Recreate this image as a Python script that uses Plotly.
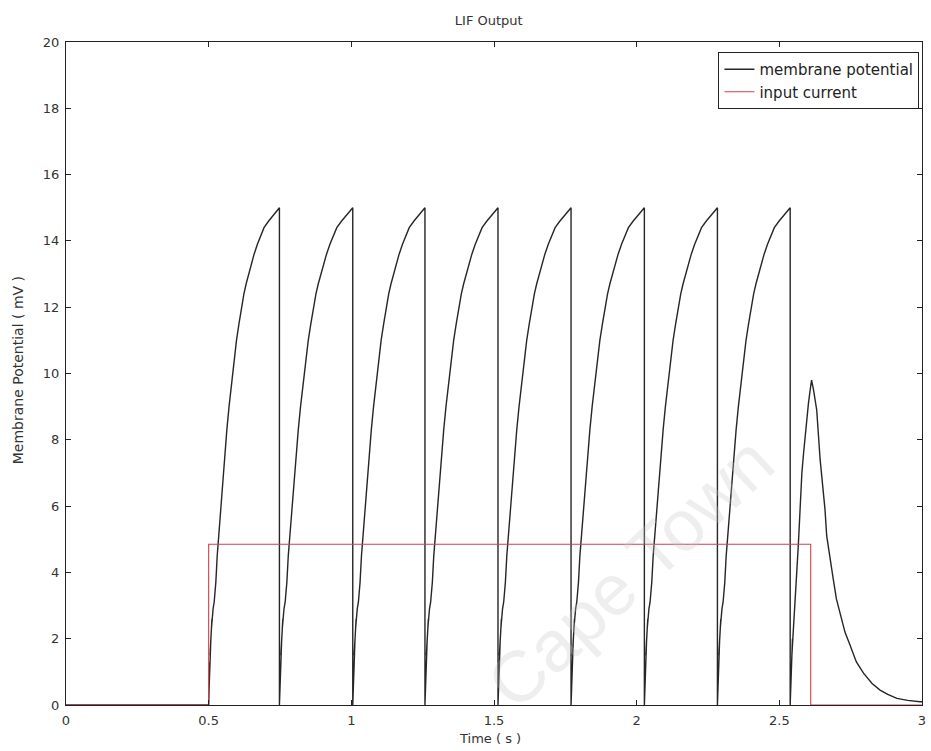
import plotly.graph_objects as go

# Shape of one charge-up between resets: time since reset (s) -> membrane potential (mV)
cycle_offset = [0.000, 0.004, 0.002, 0.008, 0.005, 0.012, 0.010, 0.016, 0.020, 0.026, 0.031,
                0.037, 0.043, 0.049, 0.058, 0.066, 0.074, 0.084, 0.092, 0.101, 0.110,
                0.119, 0.128, 0.136, 0.145, 0.154, 0.165, 0.177, 0.189, 0.201, 0.218,
                0.236, 0.257]
cycle_v = [0.0, 1.3, 0.6, 2.0, 1.5, 2.6, 2.3, 2.9, 3.1, 3.7, 4.5,
           5.2, 5.8, 6.6, 7.5, 8.3, 9.0, 9.8, 10.4, 11.0, 11.5,
           12.0, 12.4, 12.7, 13.0, 13.3, 13.6, 13.9, 14.15, 14.4, 14.6,
           14.8, 15.0]

# Input switches on / off (s)
input_on = 0.5
input_off = 2.61
input_level = 4.85
t_end = 3.0

# Spike (threshold crossing) times, s
spike_times = [0.748, 1.005, 1.258, 1.514, 1.770, 2.027, 2.283, 2.538]

# Last partial charge after final reset, then leak back to rest once input stops
tail_t = [2.538, 2.542, 2.540, 2.546, 2.544, 2.550, 2.555, 2.561, 2.567, 2.573, 2.579,
          2.585, 2.590, 2.596, 2.602, 2.608, 2.613, 2.620, 2.631, 2.643, 2.660,
          2.666, 2.677, 2.689, 2.700, 2.713, 2.730, 2.748, 2.770, 2.795, 2.825,
          2.853, 2.880, 2.912, 2.950, 2.993, 3.000]
tail_v = [0.0, 1.3, 0.6, 2.0, 1.5, 2.4, 3.3, 4.0, 4.9, 6.0, 7.0,
          7.6, 8.1, 8.6, 9.1, 9.5, 9.8, 9.5, 8.9, 7.4, 5.9,
          5.1, 4.4, 3.8, 3.2, 2.8, 2.2, 1.8, 1.3, 0.96, 0.65,
          0.45, 0.32, 0.20, 0.14, 0.10, 0.10]

# Input current trace
current_t = [0.0, input_on, input_on, input_off, input_off, t_end]
current_v = [0.0, 0.0, input_level, input_level, 0.0, 0.0]

# Assemble the membrane potential trace from the charge-up shape
vm_t = [0.0, input_on]
vm_v = [0.0, 0.0]
starts = [input_on] + spike_times[:-1]
for start, spike in zip(starts, spike_times):
    scale = (spike - start) / cycle_offset[-1]
    for dt, v in zip(cycle_offset, cycle_v):
        vm_t.append(start + dt * scale)
        vm_v.append(v)
    vm_t.append(spike)
    vm_v.append(0.0)
vm_t.extend(tail_t)
vm_v.extend(tail_v)

font_family = "DejaVu Sans, Verdana, sans-serif"

fig = go.Figure()
fig.add_trace(go.Scatter(x=vm_t, y=vm_v, mode="lines", name="membrane potential",
                         line=dict(color="#262626", width=1.4)))
fig.add_trace(go.Scatter(x=current_t, y=current_v, mode="lines", name="input current",
                         line=dict(color="#d0404a", width=1.1)))

axis_common = dict(showline=True, linecolor="#222", linewidth=1, mirror="allticks",
                   ticks="inside", ticklen=5, tickcolor="#222", showgrid=False,
                   zeroline=False, ticklabelstandoff=3, automargin=False,
                   tickfont=dict(size=13, color="#333", family=font_family))

x_ticks = [0, 0.5, 1, 1.5, 2, 2.5, 3]
y_ticks = [0, 2, 4, 6, 8, 10, 12, 14, 16, 18, 20]

fig.update_xaxes(range=[0, 3], tickvals=x_ticks,
                 ticktext=["0", "0.5", "1", "1.5", "2", "2.5", "3"], **axis_common)
fig.update_yaxes(range=[0, 20], tickvals=y_ticks,
                 ticktext=[str(v) for v in y_ticks], **axis_common)

fig.update_layout(
    width=931, height=751,
    margin=dict(l=66, r=9, t=42, b=46),
    plot_bgcolor="white", paper_bgcolor="white",
    font=dict(family=font_family, size=13, color="#333"),
    title=dict(text="LIF Output", x=0.525, xanchor="center", y=1 - 20 / 751,
               yanchor="middle", font=dict(size=13, color="#333")),
    legend=dict(x=0.997, y=0.985, xanchor="right", yanchor="top",
                bgcolor="white", bordercolor="#222", borderwidth=1,
                font=dict(size=15, color="#222"), tracegroupgap=0,
                itemwidth=30),
    showlegend=True,
)

fig.add_annotation(text="Time ( s )", xref="paper", yref="paper", x=0.495, y=0,
                   yanchor="top", yshift=-24, showarrow=False,
                   font=dict(size=13, color="#333"))
fig.add_annotation(text="Membrane Potential ( mV )", xref="paper", yref="paper",
                   x=-0.056, y=0.505, textangle=-90, showarrow=False,
                   xanchor="center", yanchor="middle",
                   font=dict(size=14, color="#333"))
fig.add_annotation(text="Cape Town", xref="paper", yref="paper", x=0.66, y=0.2,
                   textangle=-43, showarrow=False, xanchor="center", yanchor="middle",
                   font=dict(size=72, color="rgba(200,200,200,0.3)",
                             family="Liberation Sans, Arial, sans-serif"))

fig.write_html("out.html")
